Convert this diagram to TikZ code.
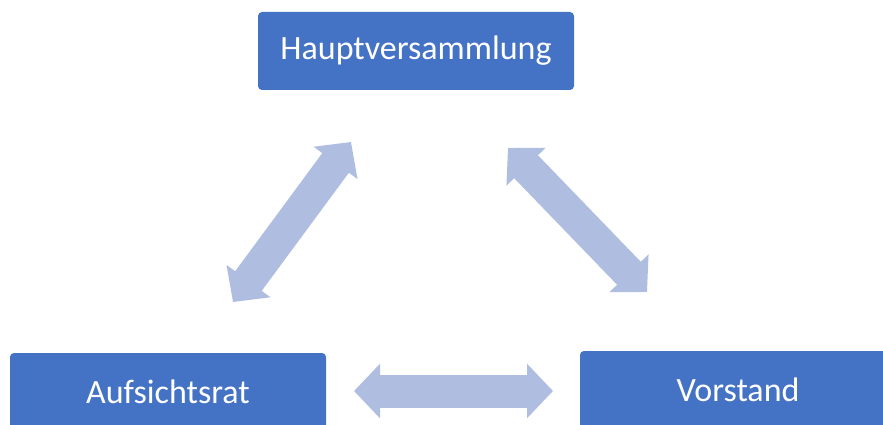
\documentclass[tikz,border=0pt]{standalone}
\usepackage{fontspec}
\setmainfont{Carlito}
\usetikzlibrary{arrows.meta}
\definecolor{boxblue}{HTML}{4472C4}
\definecolor{arrowblue}{HTML}{AFBDE0}
\tikzset{
  orgbox/.style={fill=boxblue, draw=none, rounded corners=4pt, text=white,
    minimum width=316pt, minimum height=78pt, inner sep=0pt,
    font=\fontsize{34}{40}\selectfont},
  dblarrow/.style={draw=arrowblue, line width=33pt,
    {Triangle[length=26pt,width=53pt]}-{Triangle[length=26pt,width=53pt]}}
}
\begin{document}
\begin{tikzpicture}[x=1pt,y=-1pt]
\useasboundingbox (0,0) rectangle (883,425);
\clip (0,0) rectangle (883,425);
\fill[white] (0,0) rectangle (883,425);
\node[orgbox] (hv) at (416,51) {Hauptversammlung};
\node[orgbox] (ar) at (168,392) {Aufsichtsrat};
\node[orgbox] (vs) at (738,390) {Vorstand};
\coordinate (a1s) at (233,302);
\coordinate (a1e) at (351,142);
\coordinate (a2s) at (508,148);
\coordinate (a2e) at (647,292);
\coordinate (a3s) at (354,391);
\coordinate (a3e) at (553,391);
\draw[dblarrow] (a1s) -- (a1e);
\draw[dblarrow] (a2s) -- (a2e);
\draw[dblarrow] (a3s) -- (a3e);
\end{tikzpicture}
\end{document}
